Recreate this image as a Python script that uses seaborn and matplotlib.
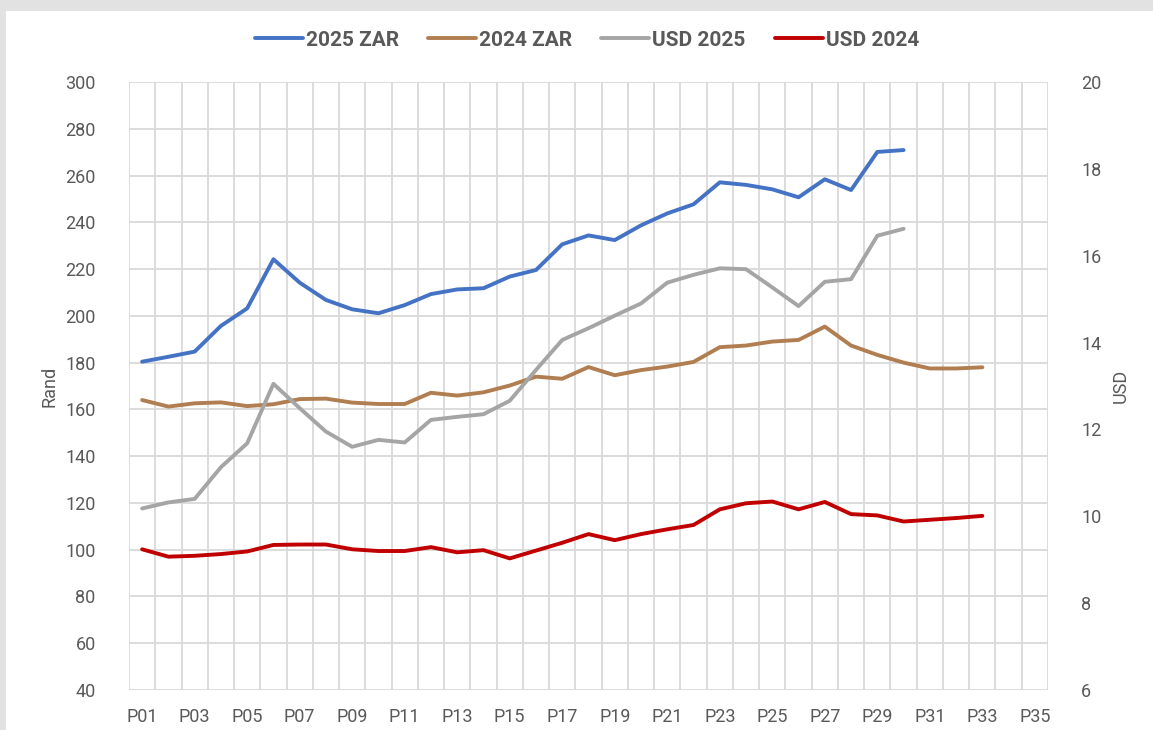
import numpy as np
import matplotlib
matplotlib.use("Agg")
import matplotlib.pyplot as plt
from matplotlib.patches import Rectangle
import seaborn as sns

# Period labels on the x axis
periods = ["P%02d" % i for i in range(1, 36)]

# Rand series (left axis)
zar_2025 = [180.4, 182.5, 184.7, 195.7, 203.2, 224.2, 214.2, 206.8, 202.8, 201.1,
            204.6, 209.3, 211.3, 211.8, 216.8, 219.6, 230.6, 234.4, 232.4, 238.7,
            243.8, 247.7, 257.1, 256.0, 254.1, 250.7, 258.4, 253.8, 270.1, 270.9]
zar_2024 = [164.0, 161.2, 162.6, 163.0, 161.4, 162.2, 164.4, 164.6, 162.9, 162.3,
            162.3, 167.1, 165.9, 167.3, 170.2, 174.0, 173.1, 178.1, 174.6, 176.8,
            178.3, 180.3, 186.6, 187.3, 189.0, 189.7, 195.4, 187.3, 183.3, 180.0,
            177.5, 177.5, 178.0]

# USD series (right axis)
usd_2025 = [10.18, 10.32, 10.40, 11.13, 11.68, 13.05, 12.49, 11.95, 11.60, 11.76,
            11.70, 12.22, 12.29, 12.35, 12.66, 13.37, 14.06, 14.33, 14.62, 14.90,
            15.38, 15.56, 15.71, 15.69, 15.27, 14.84, 15.40, 15.46, 16.46, 16.62]
usd_2024 = [9.24, 9.07, 9.09, 9.13, 9.19, 9.34, 9.35, 9.35, 9.24, 9.20,
            9.20, 9.29, 9.17, 9.22, 9.03, 9.21, 9.39, 9.59, 9.45, 9.59,
            9.70, 9.80, 10.16, 10.30, 10.34, 10.16, 10.33, 10.05, 10.02, 9.88,
            9.92, 9.96, 10.01]

sns.set_style("white")
plt.rcParams["font.family"] = ["Roboto", "DejaVu Sans"]

text_col = "#595959"
grid_col = "#D9D9D9"
lw = 2.8

fig = plt.figure(figsize=(11.53, 7.3), dpi=100, facecolor="#E2E2E2")
# white chart area inside the grey frame
fig.patches.append(Rectangle((6 / 1153, 0), 1, 1 - 11 / 730, transform=fig.transFigure,
                             facecolor="white", edgecolor="none", zorder=-10))

ax = fig.add_axes([129 / 1153, 40 / 730, (1048 - 129) / 1153, (690 - 82) / 730])
ax.set_facecolor("none")
ax2 = ax.twinx()

sns.lineplot(x=np.arange(len(zar_2025)), y=zar_2025, ax=ax, color="#4472C4",
             linewidth=lw, label="2025 ZAR", legend=False)
sns.lineplot(x=np.arange(len(zar_2024)), y=zar_2024, ax=ax, color="#B07E50",
             linewidth=lw, label="2024 ZAR", legend=False)
sns.lineplot(x=np.arange(len(usd_2025)), y=usd_2025, ax=ax2, color="#A5A5A5",
             linewidth=lw, label="USD 2025", legend=False)
sns.lineplot(x=np.arange(len(usd_2024)), y=usd_2024, ax=ax2, color="#C00000",
             linewidth=lw, label="USD 2024", legend=False)

ax.set_xlim(-0.5, len(periods) - 0.5)
ax.set_ylim(40, 300)
ax.set_yticks(np.arange(40, 301, 20))
ax2.set_ylim(6, 20)
ax2.set_yticks(np.arange(6, 21, 2))

ax.set_xticks(np.arange(0, len(periods), 2))
ax.set_xticklabels(periods[::2])
ax.set_xticks(np.arange(-0.5, len(periods), 1), minor=True)

ax.grid(False)
ax.grid(True, which="minor", axis="x", color=grid_col, linewidth=1.3)
ax.grid(True, which="major", axis="y", color=grid_col, linewidth=1.3)
ax2.grid(False)

for a in (ax, ax2):
    for s in a.spines.values():
        s.set_visible(False)
ax.tick_params(axis="both", which="both", length=0, labelsize=13, labelcolor=text_col)
ax.tick_params(axis="y", pad=24)
ax.tick_params(axis="x", pad=13)
ax2.tick_params(axis="y", length=0, labelsize=13, labelcolor=text_col, pad=24)

ax.set_xlabel("")
ax.set_ylabel("Rand", fontsize=13, color=text_col, labelpad=5)
ax2.set_ylabel("USD", fontsize=13, color=text_col, labelpad=7)

h1, l1 = ax.get_legend_handles_labels()
h2, l2 = ax2.get_legend_handles_labels()
fig.legend(h1 + h2, l1 + l2, loc="center", bbox_to_anchor=(587 / 1153, 1 - 40 / 730),
           ncol=4, frameon=False, handlelength=2.3, handletextpad=0.15,
           columnspacing=1.4, prop={"size": 15, "weight": "bold"}, labelcolor=text_col)

fig.savefig("out.png", dpi=100, facecolor=fig.get_facecolor())
plt.close(fig)
